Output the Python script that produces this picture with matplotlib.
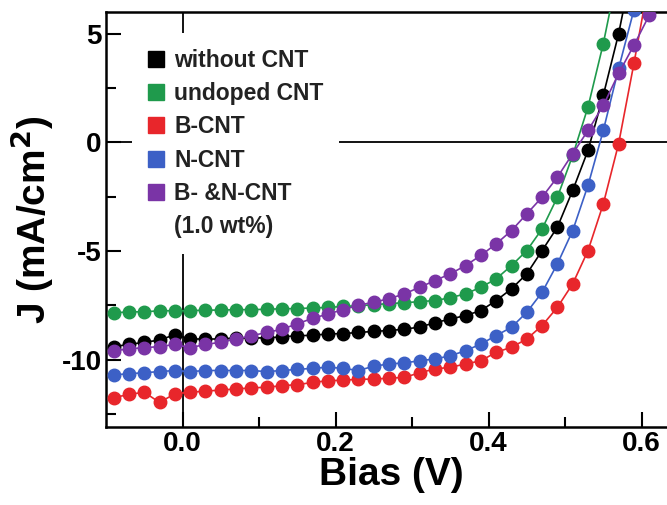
import matplotlib
matplotlib.use("Agg")
import matplotlib.pyplot as plt
from matplotlib.lines import Line2D

plt.rcParams["font.family"] = ["Liberation Sans", "DejaVu Sans"]
plt.rcParams["font.weight"] = "bold"
plt.rcParams["axes.unicode_minus"] = False

# ---- data (Bias in V, J in mA/cm2) ----
bias = [-0.09, -0.07, -0.05, -0.03, -0.01, 0.01, 0.03, 0.05, 0.07, 0.09,
        0.11, 0.13, 0.15, 0.17, 0.19, 0.21, 0.23, 0.25, 0.27, 0.29,
        0.31, 0.33, 0.35, 0.37, 0.39, 0.41, 0.43, 0.45, 0.47, 0.49,
        0.51, 0.53, 0.55, 0.57, 0.59, 0.61, 0.63]

j_without = [-9.4, -9.3, -9.2, -9.1, -8.85, -9.05, -9.05, -9.05, -9.0, -9.0,
             -9.0, -8.95, -8.9, -8.88, -8.82, -8.8, -8.75, -8.7, -8.66, -8.6,
             -8.5, -8.3, -8.13, -7.97, -7.74, -7.28, -6.74, -6.05, -4.98, -3.9,
             -2.21, -0.37, 2.17, 5.0, 8.5]

j_undoped = [-7.85, -7.8, -7.8, -7.75, -7.75, -7.75, -7.72, -7.72, -7.7, -7.7,
             -7.68, -7.66, -7.65, -7.62, -7.6, -7.55, -7.52, -7.47, -7.42, -7.38,
             -7.33, -7.28, -7.15, -6.97, -6.67, -6.28, -5.67, -4.98, -3.98, -2.52,
             -0.6, 1.63, 4.55, 8.0]

j_b = [-11.75, -11.6, -11.5, -11.97, -11.57, -11.5, -11.45, -11.4, -11.35, -11.3,
       -11.27, -11.2, -11.15, -11.05, -10.97, -10.95, -10.9, -10.9, -10.85, -10.82,
       -10.6, -10.43, -10.35, -10.2, -10.05, -9.66, -9.43, -9.05, -8.43, -7.59,
       -6.51, -4.98, -2.83, -0.06, 3.63, 7.5]

j_n = [-10.7, -10.65, -10.6, -10.55, -10.5, -10.55, -10.5, -10.5, -10.5, -10.5,
       -10.55, -10.5, -10.45, -10.4, -10.35, -10.4, -10.5, -10.3, -10.2, -10.15,
       -10.05, -9.97, -9.82, -9.59, -9.28, -8.89, -8.51, -7.82, -6.9, -5.59,
       -4.06, -1.98, 0.55, 3.4, 6.1]

j_bn = [-9.6, -9.5, -9.45, -9.4, -9.3, -9.45, -9.3, -9.2, -9.05, -8.9,
        -8.75, -8.6, -8.35, -8.1, -7.9, -7.7, -7.5, -7.35, -7.2, -6.97,
        -6.67, -6.36, -6.05, -5.67, -5.2, -4.67, -4.06, -3.29, -2.52, -1.6,
        -0.52, 0.55, 1.7, 3.17, 4.47, 5.85, 7.3]

series = [
    ("without CNT", j_without, "#000000"),
    ("undoped CNT", j_undoped, "#1f9a4c"),
    ("B-CNT", j_b, "#e8262b"),
    ("N-CNT", j_n, "#3c60c6"),
    ("B- &N-CNT", j_bn, "#7a34a6"),
]

fig = plt.figure(figsize=(6.67, 5.05), dpi=100)
ax = fig.add_axes([106 / 667, 78 / 505, 570 / 667, 415 / 505])

ax.axhline(0, color="black", lw=1.3, zorder=1)
ax.axvline(0, color="black", lw=1.3, zorder=1)

for name, vals, col in series:
    ax.plot(bias[:len(vals)], vals, "-o", color=col, mfc=col, mec=col,
            ms=9, lw=1.2, zorder=3)

ax.set_xlim(-0.1, 0.645)
ax.set_ylim(-13.1, 6.0)
ax.set_xticks([0.0, 0.2, 0.4, 0.6])
ax.set_xticklabels(["0.0", "0.2", "0.4", "0.6"])
ax.set_xticks([0.1, 0.3, 0.5], minor=True)
ax.set_yticks([-10, -5, 0, 5])
ax.set_yticks([-12.5, -7.5, -2.5, 2.5], minor=True)
ax.tick_params(which="both", direction="in", top=False, right=False, width=1.5)
ax.tick_params(which="major", length=11, labelsize=20, pad=3)
ax.tick_params(which="minor", length=7)
for lab in ax.get_xticklabels() + ax.get_yticklabels():
    lab.set_fontweight("bold")
for s in ax.spines.values():
    s.set_linewidth(1.8)
ax.spines["right"].set_visible(False)

ax.set_xlabel("Bias (V)", fontsize=28, fontweight="bold", labelpad=0)
ax.set_ylabel("J (mA/cm$^\\mathbf{2}$)", fontsize=28, fontweight="bold", labelpad=4)

handles = [Line2D([], [], ls="none", marker="s", ms=11, color=c, mec=c)
           for _, _, c in series]
labels = [n for n, _, _ in series]
handles.append(Line2D([], [], ls="none"))
labels.append("(1.0 wt%)")
leg = ax.legend(handles, labels, loc="upper left", bbox_to_anchor=(0.045, 0.95),
                fontsize=16.5, handlelength=0.7, handletextpad=0.45, labelspacing=0.45,
                borderpad=0.7, borderaxespad=0, frameon=True, framealpha=1,
                facecolor="white", edgecolor="none", fancybox=False)
leg.set_zorder(5)
for t in leg.get_texts():
    t.set_fontweight("bold")
    t.set_color("#222222")

fig.savefig("out.png", dpi=100)
